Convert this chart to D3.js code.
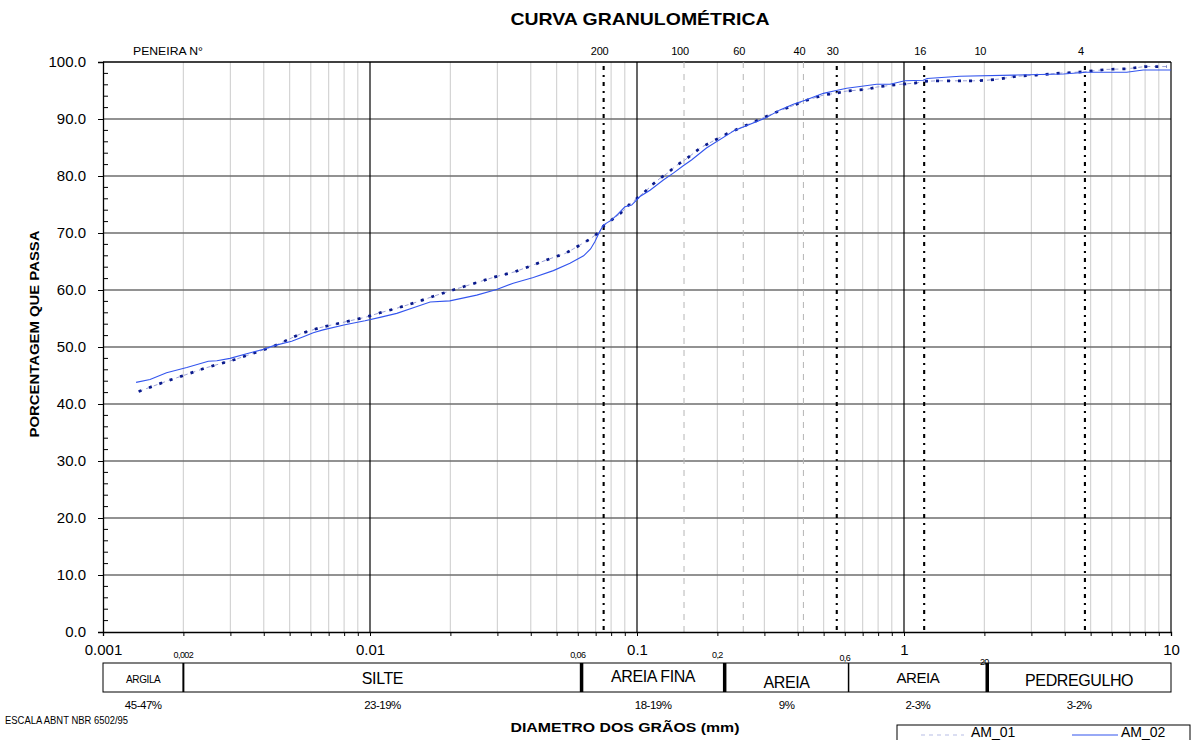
<!DOCTYPE html>
<html>
<head>
<meta charset="utf-8">
<script src="https://cdn.jsdelivr.net/npm/d3@7"></script>
<style>
  html, body { margin: 0; padding: 0; background: #fff; }
  svg { display: block; font-family: "Liberation Sans", Arial, sans-serif; }
</style>
</head>
<body>
<svg id="chart" width="1196" height="740"></svg>
<script>
// Grain size distribution: diameter (mm) vs percent passing
const am01Diam = [0.00136, 0.00173, 0.00203, 0.00245, 0.00312, 0.00366, 0.00434, 0.00555, 0.0065, 0.00806, 0.00958,
  0.0109, 0.0126, 0.015, 0.0178, 0.0211, 0.0251, 0.0294, 0.0349, 0.0409, 0.0486, 0.0538, 0.0577, 0.066, 0.0724,
  0.0748, 0.0804, 0.0864, 0.0942, 0.108, 0.115, 0.122, 0.131, 0.140, 0.151, 0.1735, 0.217, 0.248, 0.332, 0.387,
  0.426, 0.499, 0.552, 0.61, 0.725, 0.79, 0.925, 1.10, 1.19, 1.33, 1.82, 2.04, 2.26, 2.64, 3.14, 3.73, 4.76,
  5.74, 6.82, 7.99, 9.64];
const am01Pass = [42.2, 44.0, 45.1, 46.4, 47.8, 48.9, 50.1, 52.4, 53.4, 54.4, 55.2,
  56.0, 56.8, 57.9, 59.1, 60.2, 61.3, 62.3, 63.2, 64.4, 65.7, 66.4, 67.2, 68.8, 70.2,
  71.2, 72.3, 73.4, 75.1, 77.4, 78.6, 79.6, 80.6, 81.8, 82.8, 85.0, 87.4, 88.6, 91.2, 92.4,
  93.2, 94.2, 94.5, 94.9, 95.2, 95.6, 96.0, 96.3, 96.6, 96.7, 96.7, 96.8, 97.0, 97.5, 97.7, 98.0, 98.3,
  98.7, 98.8, 99.2, 99.2];

const am02Diam = [0.00133, 0.0015, 0.00173, 0.00206, 0.00248, 0.00267, 0.00299, 0.00345, 0.00399, 0.00434, 0.00509,
  0.00563, 0.00613, 0.00667, 0.00806, 0.00958, 0.0109, 0.0126, 0.01453, 0.0168, 0.0199, 0.0251, 0.0298, 0.0344,
  0.0409, 0.0486, 0.0561, 0.0631, 0.067, 0.0696, 0.0724, 0.0748, 0.0804, 0.0851, 0.0901, 0.0955, 0.1026, 0.1119,
  0.1255, 0.1368, 0.149, 0.160, 0.182, 0.232, 0.304, 0.343, 0.385, 0.426, 0.499, 0.552, 0.61, 0.684, 0.79, 0.886,
  1.008, 1.18, 1.22, 1.62, 2.57, 3.95, 4.83, 6.82, 7.87, 10];
const am02Pass = [43.8, 44.3, 45.5, 46.4, 47.5, 47.6, 48.0, 48.8, 49.6, 50.2, 51.0,
  51.8, 52.5, 53.0, 53.9, 54.6, 55.2, 55.9, 56.9, 57.9, 58.1, 59.1, 60.1, 61.2,
  62.2, 63.4, 64.7, 66.0, 67.2, 68.5, 70.2, 71.4, 72.3, 73.4, 74.6, 74.9, 76.4, 77.5,
  79.3, 80.5, 81.8, 82.8, 84.9, 88.0, 90.2, 91.6, 92.6, 93.3, 94.5, 94.96, 95.4, 95.7, 96.1, 96.1,
  96.7, 96.8, 97.1, 97.5, 97.7, 97.9, 98.2, 98.2, 98.6, 98.6];

// Sieve numbers (top labels) and their openings in mm
const sieveLabels = ["200", "100", "60", "40", "30", "16", "10", "4"];
const sieveSizes = [0.075, 0.15, 0.25, 0.42, 0.56, 1.19, 2.0, 4.76];
const sieveStyle = ["dot", "dash", "dash", "dash", "dot", "dot", "none", "dot"];

const xTickLabels = ["0.001", "0.01", "0.1", "1", "10"];
const xTickValues = [0.001, 0.01, 0.1, 1, 10];
const yTickValues = [0, 10, 20, 30, 40, 50, 60, 70, 80, 90, 100];

// ABNT NBR 6502/95 classification band
const classEdges = [0.001, 0.002, 0.062, 0.213, 0.62, 2.05, 10];
const classBoundValues = [0.002, 0.06, 0.2, 0.6, 2.0];
const classBoundLabels = ["0,002", "0,06", "0,2", "0,6", "20"];
const classNames = ["ARGILA", "SILTE", "AREIA FINA", "AREIA", "AREIA", "PEDREGULHO"];
const classPercents = ["45-47%", "23-19%", "18-19%", "9%", "2-3%", "3-2%"];

const svg = d3.select("#chart");
const x = d3.scaleLog().domain([0.001, 10]).range([103, 1171]);
const y = d3.scaleLinear().domain([0, 100]).range([632, 62]);

// minor vertical grid (2..9 in each decade)
const minorVals = [];
for (let k = -3; k < 1; k++) for (let m = 2; m <= 9; m++) minorVals.push(m * Math.pow(10, k));

const grid = svg.append("g");
grid.selectAll("line.minor").data(minorVals).enter().append("line")
  .attr("x1", d => x(d)).attr("x2", d => x(d)).attr("y1", y(0)).attr("y2", y(100))
  .attr("stroke", "#d4d4d4").attr("stroke-width", 1.2);

// horizontal major grid
grid.selectAll("line.h").data(yTickValues.filter(v => v > 0 && v < 100)).enter().append("line")
  .attr("x1", x(0.001)).attr("x2", x(10)).attr("y1", d => y(d)).attr("y2", d => y(d))
  .attr("stroke", "#6e6e6e").attr("stroke-width", 1.3);

// decade lines
grid.selectAll("line.dec").data(xTickValues.slice(1)).enter().append("line")
  .attr("x1", d => x(d)).attr("x2", d => x(d)).attr("y1", y(0)).attr("y2", y(100))
  .attr("stroke", "#000").attr("stroke-width", 1.2);

// top border
grid.append("line").attr("x1", x(0.001)).attr("x2", x(10)).attr("y1", y(100)).attr("y2", y(100))
  .attr("stroke", "#000").attr("stroke-width", 1.3);

// sieve reference lines
sieveSizes.forEach((s, i) => {
  if (sieveStyle[i] === "dash") {
    svg.append("line").attr("x1", x(s)).attr("x2", x(s)).attr("y1", y(100)).attr("y2", y(0))
      .attr("stroke", "#b5b5b5").attr("stroke-width", 1).attr("stroke-dasharray", "6,6");
  } else if (sieveStyle[i] === "dot") {
    svg.append("line").attr("x1", x(s)).attr("x2", x(s)).attr("y1", y(100) + 4).attr("y2", y(0))
      .attr("stroke", "#000").attr("stroke-width", 2.1).attr("stroke-dasharray", "4,5,2,5");
  }
});

// sieve labels
svg.append("text").attr("x", 133).attr("y", 55).attr("font-size", 10.5)
  .attr("textLength", 70).attr("lengthAdjust", "spacingAndGlyphs").text("PENEIRA N°");
svg.selectAll("text.sv").data(sieveLabels).enter().append("text")
  .attr("x", (d, i) => x(sieveSizes[i]) - 4).attr("y", 55).attr("text-anchor", "middle")
  .attr("font-size", 11).attr("letter-spacing", -0.2).text(d => d);

// data curves
const line = d3.line().x(d => x(d[0])).y(d => y(d[1]));
const am01 = am01Diam.map((d, i) => [d, am01Pass[i]]);
const am02 = am02Diam.map((d, i) => [d, am02Pass[i]]);

svg.append("path").datum(am01).attr("d", line).attr("fill", "none")
  .attr("stroke", "#9aa0d8").attr("stroke-width", 1).attr("stroke-dasharray", "4,4");
svg.append("path").datum(am01).attr("d", line).attr("fill", "none")
  .attr("stroke", "#0a1a8c").attr("stroke-width", 2.7).attr("stroke-dasharray", "3,8");
svg.append("path").datum(am02).attr("d", line).attr("fill", "none")
  .attr("stroke", "#3355ee").attr("stroke-width", 1.1);

// y axis
const yAxis = d3.axisLeft(y).tickValues(yTickValues).tickFormat(d3.format(".1f")).tickSize(5).tickPadding(12);
const gy = svg.append("g").attr("transform", `translate(${x(0.001)},0)`).call(yAxis);
gy.selectAll("text").attr("font-size", 15).attr("fill", "#000").attr("font-family", "'Liberation Sans', Arial, sans-serif");
gy.selectAll("line").attr("stroke", "#000");
gy.select(".domain").attr("stroke", "#000").attr("stroke-width", 1.3);
const yMinor = d3.range(0, 101, 2).filter(v => v % 10 !== 0);
svg.append("g").selectAll("line").data(yMinor).enter().append("line")
  .attr("x1", x(0.001)).attr("x2", x(0.001) + 5).attr("y1", d => y(d)).attr("y2", d => y(d))
  .attr("stroke", "#000").attr("stroke-width", 1);

// x axis
const xMinorAxis = d3.axisBottom(x).tickValues(minorVals).tickFormat("").tickSize(4);
const gxm = svg.append("g").attr("transform", `translate(0,${y(0)})`).call(xMinorAxis);
gxm.select(".domain").remove();
const xAxis = d3.axisBottom(x).tickValues(xTickValues).tickFormat((d, i) => xTickLabels[i]).tickSize(4).tickPadding(8);
const gx = svg.append("g").attr("transform", `translate(0,${y(0)})`).call(xAxis);
gx.selectAll("text").attr("font-size", 15).attr("fill", "#000").attr("font-family", "'Liberation Sans', Arial, sans-serif");
gx.select(".domain").attr("stroke", "#000").attr("stroke-width", 1.3);

// title and axis titles
svg.append("text").attr("x", 640).attr("y", 25).attr("text-anchor", "middle")
  .attr("font-size", 17).attr("font-weight", "bold")
  .attr("textLength", 259).attr("lengthAdjust", "spacingAndGlyphs").text("CURVA GRANULOMÉTRICA");
svg.append("text").attr("transform", "translate(39,334) rotate(-90)").attr("text-anchor", "middle")
  .attr("font-size", 13.5).attr("font-weight", "bold")
  .attr("textLength", 207).attr("lengthAdjust", "spacingAndGlyphs").text("PORCENTAGEM QUE PASSA");
svg.append("text").attr("x", 625).attr("y", 732).attr("text-anchor", "middle")
  .attr("font-size", 13.5).attr("font-weight", "bold")
  .attr("textLength", 229).attr("lengthAdjust", "spacingAndGlyphs").text("DIAMETRO DOS GRÃOS (mm)");
svg.append("text").attr("x", 5).attr("y", 724).attr("font-size", 10)
  .attr("textLength", 123).attr("lengthAdjust", "spacingAndGlyphs").text("ESCALA ABNT NBR 6502/95");

// classification band
const bandTop = 663, bandBot = 692;
const band = svg.append("g");
band.append("rect").attr("x", x(0.001)).attr("y", bandTop).attr("width", x(10) - x(0.001))
  .attr("height", bandBot - bandTop).attr("fill", "none").attr("stroke", "#000").attr("stroke-width", 1);
const dividerW = [2, 3.5, 3.5, 1.5, 3.5];
classEdges.slice(1, -1).forEach((b, i) => {
  band.append("line").attr("x1", x(b)).attr("x2", x(b)).attr("y1", bandTop).attr("y2", bandBot)
    .attr("stroke", "#000").attr("stroke-width", dividerW[i]);
});
const boundLabelY = [658, 658, 658, 661, 665];
classBoundValues.forEach((b, i) => {
  band.append("text").attr("x", x(b)).attr("y", boundLabelY[i]).attr("text-anchor", "middle")
    .attr("font-size", 9).attr("letter-spacing", -0.6).text(classBoundLabels[i]);
});
const nameSize = [10, 16, 16, 16, 15, 16];
const nameY = [683, 684, 682, 688, 683, 686];
classNames.forEach((n, i) => {
  const cx = (x(classEdges[i]) + x(classEdges[i + 1])) / 2;
  band.append("text").attr("x", cx).attr("y", nameY[i]).attr("text-anchor", "middle")
    .attr("font-size", nameSize[i]).attr("letter-spacing", -0.4).text(n);
  band.append("text").attr("x", cx).attr("y", 709).attr("text-anchor", "middle")
    .attr("font-size", 11.5).attr("letter-spacing", -0.5).text(classPercents[i]);
});

// legend
const lg = svg.append("g");
lg.append("rect").attr("x", 897).attr("y", 725).attr("width", 293).attr("height", 30)
  .attr("fill", "#fff").attr("stroke", "#000").attr("stroke-width", 1);
lg.append("line").attr("x1", 921).attr("x2", 964).attr("y1", 735).attr("y2", 735)
  .attr("stroke", "#b8bde6").attr("stroke-width", 1.2).attr("stroke-dasharray", "4,4");
lg.append("text").attr("x", 971).attr("y", 737).attr("font-size", 14).text("AM_01");
lg.append("line").attr("x1", 1072).attr("x2", 1118).attr("y1", 735).attr("y2", 735)
  .attr("stroke", "#3355ee").attr("stroke-width", 1.2);
lg.append("text").attr("x", 1121).attr("y", 737).attr("font-size", 14).text("AM_02");
</script>
</body>
</html>
